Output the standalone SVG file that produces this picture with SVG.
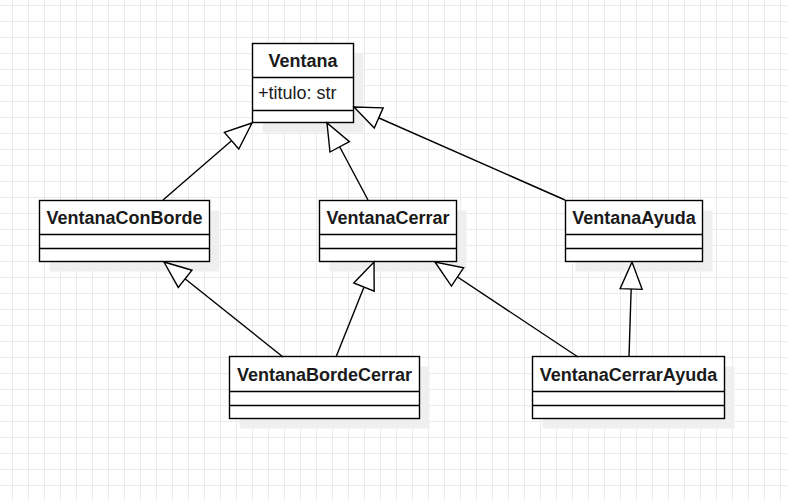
<svg xmlns="http://www.w3.org/2000/svg" width="788" height="501" viewBox="0 0 788 501">
  <defs>
    <pattern id="grid" patternUnits="userSpaceOnUse" x="12" y="5" width="16" height="16">
      <rect x="0" y="0" width="1" height="16" fill="#ebebeb"/>
      <rect x="0" y="0" width="16" height="1" fill="#ebebeb"/>
    </pattern>
    <marker id="inherit" markerUnits="userSpaceOnUse" markerWidth="31" markerHeight="26" viewBox="-29 -13 31 26" refX="0" refY="0" orient="auto" overflow="visible">
      <path d="M0,0 L-27,-11 L-27,11 Z" fill="#ffffff" stroke="#000000" stroke-width="1.4" stroke-linejoin="miter"/>
    </marker>
  </defs>
  <style>
    .shadow { fill: #efefef; stroke: none; }
    .box { fill: #ffffff; stroke: #000000; stroke-width: 1.4; }
    .div { stroke: #000000; stroke-width: 1.4; }
    .title { font-family: "Liberation Sans", Arial, sans-serif; font-size: 18px; font-weight: bold; fill: #1a1a1a; text-anchor: middle; }
    .attr { font-family: "Liberation Sans", Arial, sans-serif; font-size: 18px; fill: #1a1a1a; }
    .edge { fill: none; stroke: #000000; stroke-width: 1.4; marker-end: url(#inherit); }
  </style>
  <rect x="0" y="0" width="788" height="501" fill="#ffffff"/>
  <rect x="0" y="0" width="788" height="501" fill="url(#grid)"/>

  <g id="Ventana">
    <rect class="shadow" x="262.5" y="53.5" width="101" height="79"/>
    <rect class="box" x="252.5" y="43.5" width="101" height="79"/>
    <line class="div" x1="252.5" y1="77.5" x2="353.5" y2="77.5"/>
    <line class="div" x1="252.5" y1="110.5" x2="353.5" y2="110.5"/>
    <text class="title" x="303" y="67">Ventana</text>
    <text class="attr" x="258" y="98.5">+titulo: str</text>
  </g>

  <g id="VentanaConBorde">
    <rect class="shadow" x="49.5" y="210.5" width="170" height="61"/>
    <rect class="box" x="39.5" y="200.5" width="170" height="61"/>
    <line class="div" x1="39.5" y1="234.5" x2="209.5" y2="234.5"/>
    <line class="div" x1="39.5" y1="248.5" x2="209.5" y2="248.5"/>
    <text class="title" x="124.5" y="224">VentanaConBorde</text>
  </g>

  <g id="VentanaCerrar">
    <rect class="shadow" x="329.5" y="210.5" width="137" height="61"/>
    <rect class="box" x="319.5" y="200.5" width="137" height="61"/>
    <line class="div" x1="319.5" y1="234.5" x2="456.5" y2="234.5"/>
    <line class="div" x1="319.5" y1="248.5" x2="456.5" y2="248.5"/>
    <text class="title" x="388" y="224">VentanaCerrar</text>
  </g>

  <g id="VentanaAyuda">
    <rect class="shadow" x="575.5" y="210.5" width="137" height="61"/>
    <rect class="box" x="565.5" y="200.5" width="137" height="61"/>
    <line class="div" x1="565.5" y1="234.5" x2="702.5" y2="234.5"/>
    <line class="div" x1="565.5" y1="248.5" x2="702.5" y2="248.5"/>
    <text class="title" x="634" y="224">VentanaAyuda</text>
  </g>

  <g id="VentanaBordeCerrar">
    <rect class="shadow" x="239.5" y="366.5" width="190" height="62"/>
    <rect class="box" x="229.5" y="356.5" width="190" height="62"/>
    <line class="div" x1="229.5" y1="391.5" x2="419.5" y2="391.5"/>
    <line class="div" x1="229.5" y1="405.5" x2="419.5" y2="405.5"/>
    <text class="title" x="324.5" y="381">VentanaBordeCerrar</text>
  </g>

  <g id="VentanaCerrarAyuda">
    <rect class="shadow" x="542.5" y="366.5" width="192" height="62"/>
    <rect class="box" x="532.5" y="356.5" width="192" height="62"/>
    <line class="div" x1="532.5" y1="391.5" x2="724.5" y2="391.5"/>
    <line class="div" x1="532.5" y1="405.5" x2="724.5" y2="405.5"/>
    <text class="title" x="628.5" y="381">VentanaCerrarAyuda</text>
  </g>

  <g id="connectors">
    <path class="edge" d="M163,200 L252,123"/>
    <path class="edge" d="M368,200 L327,123"/>
    <path class="edge" d="M565,200 L354,107"/>
    <path class="edge" d="M283,357 L164,262"/>
    <path class="edge" d="M336,357 L374,262"/>
    <path class="edge" d="M578,357 L435,262"/>
    <path class="edge" d="M629,357 L632,262"/>
  </g>
</svg>
